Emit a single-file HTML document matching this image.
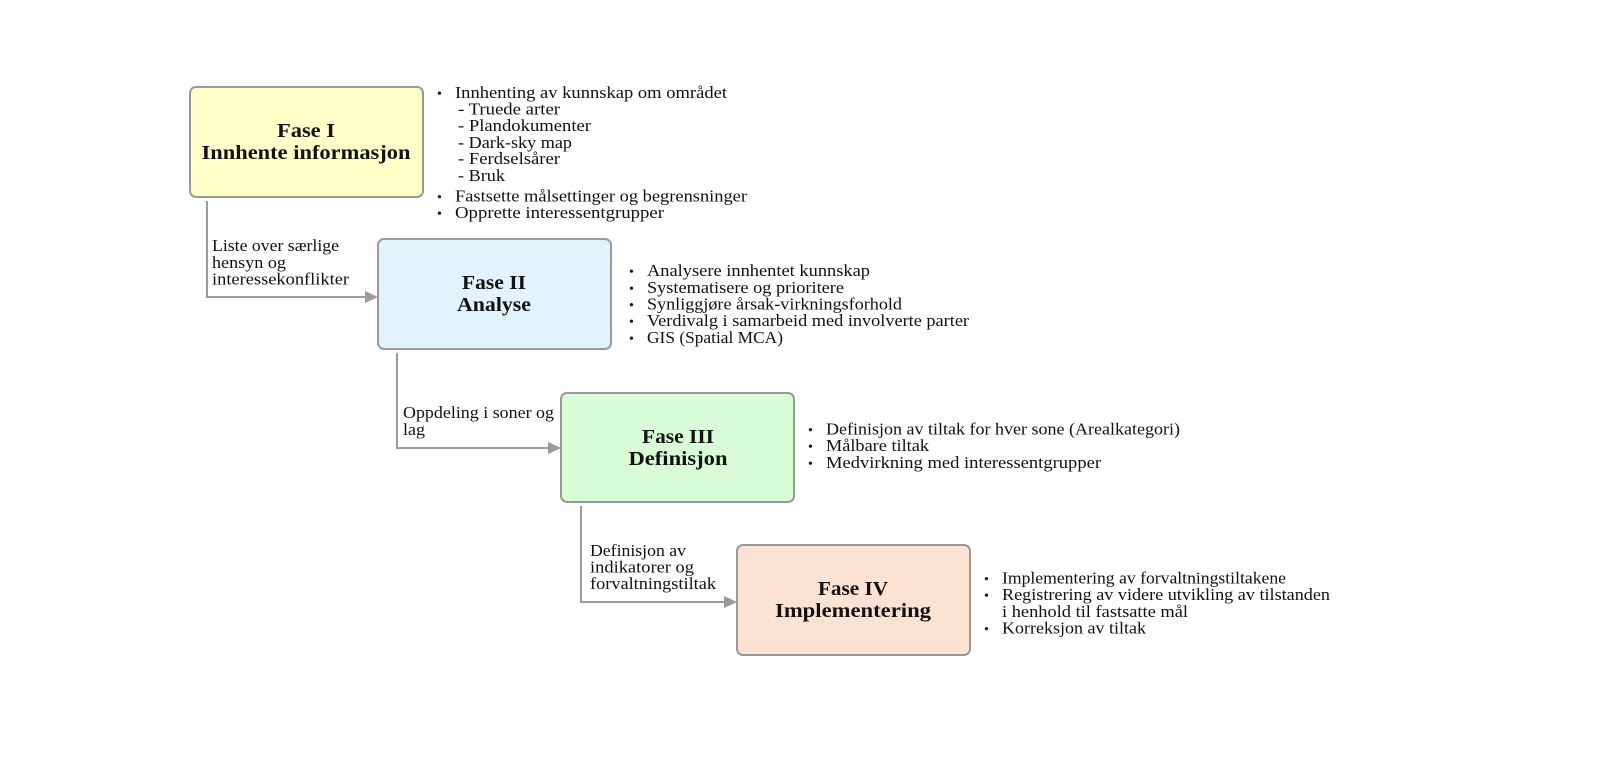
<!DOCTYPE html>
<html><head><meta charset="utf-8"><style>
html,body{margin:0;padding:0;background:#fff;overflow:hidden;width:1600px;height:777px;}
svg{display:block;}
text{font-family:"Liberation Serif",serif;font-size:17px;fill:#111;}
.t{font-weight:bold;font-size:20px;text-anchor:middle;}
.b{font-size:14px;}
</style></head><body>
<svg width="1600" height="777" viewBox="0 0 1600 777" xmlns="http://www.w3.org/2000/svg">
<g fill="none" stroke="#9a9a9a" stroke-width="2">
<path d="M207,201 V297 H367"/>
<path d="M397,353 V448 H550"/>
<path d="M581,506 V602 H726"/>
</g>
<g fill="#9a9a9a">
<path d="M365,291 L378,297 L365,303 z"/>
<path d="M548,442 L561,448 L548,454 z"/>
<path d="M724,596 L737,602 L724,608 z"/>
</g>
<g stroke="#9a9a9a" stroke-width="2">
<rect x="190" y="87" width="233" height="110" rx="6" fill="#ffffc8"/>
<rect x="378" y="239" width="233" height="110" rx="6" fill="#e2f3fd"/>
<rect x="561" y="393" width="233" height="109" rx="6" fill="#d8fdd6"/>
<rect x="737" y="545" width="233" height="110" rx="6" fill="#fce2d2"/>
</g>
<text class="t" x="306" y="137" textLength="58" lengthAdjust="spacingAndGlyphs">Fase I</text>
<text class="t" x="306" y="159" textLength="209" lengthAdjust="spacingAndGlyphs">Innhente informasjon</text>
<text class="t" x="494" y="289" textLength="64" lengthAdjust="spacingAndGlyphs">Fase II</text>
<text class="t" x="494" y="311" textLength="74" lengthAdjust="spacingAndGlyphs">Analyse</text>
<text class="t" x="678" y="443" textLength="72" lengthAdjust="spacingAndGlyphs">Fase III</text>
<text class="t" x="678" y="465" textLength="99" lengthAdjust="spacingAndGlyphs">Definisjon</text>
<text class="t" x="853" y="595" textLength="70" lengthAdjust="spacingAndGlyphs">Fase IV</text>
<text class="t" x="853" y="617" textLength="156" lengthAdjust="spacingAndGlyphs">Implementering</text>

<g>
<text class="b" x="437" y="98">•</text>
<text x="455" y="98" textLength="272" lengthAdjust="spacingAndGlyphs">Innhenting av kunnskap om området</text>
<text x="458" y="114.5" textLength="102" lengthAdjust="spacingAndGlyphs">- Truede arter</text>
<text x="458" y="131" textLength="133" lengthAdjust="spacingAndGlyphs">- Plandokumenter</text>
<text x="458" y="148" textLength="114" lengthAdjust="spacingAndGlyphs">- Dark-sky map</text>
<text x="458" y="164" textLength="102" lengthAdjust="spacingAndGlyphs">- Ferdselsårer</text>
<text x="458" y="181" textLength="47" lengthAdjust="spacingAndGlyphs">- Bruk</text>
<text class="b" x="437" y="201.5">•</text>
<text x="455" y="201.5" textLength="292" lengthAdjust="spacingAndGlyphs">Fastsette målsettinger og begrensninger</text>
<text class="b" x="437" y="218">•</text>
<text x="455" y="218" textLength="209" lengthAdjust="spacingAndGlyphs">Opprette interessentgrupper</text>
</g>
<g>
<text class="b" x="629" y="276">•</text><text x="647" y="276" textLength="223" lengthAdjust="spacingAndGlyphs">Analysere innhentet kunnskap</text>
<text class="b" x="629" y="293">•</text><text x="647" y="293" textLength="197" lengthAdjust="spacingAndGlyphs">Systematisere og prioritere</text>
<text class="b" x="629" y="309.5">•</text><text x="647" y="309.5" textLength="255" lengthAdjust="spacingAndGlyphs">Synliggjøre årsak-virkningsforhold</text>
<text class="b" x="629" y="326">•</text><text x="647" y="326" textLength="322" lengthAdjust="spacingAndGlyphs">Verdivalg i samarbeid med involverte parter</text>
<text class="b" x="629" y="343">•</text><text x="647" y="343" textLength="136" lengthAdjust="spacingAndGlyphs">GIS (Spatial MCA)</text>
</g>
<g>
<text class="b" x="808" y="434.5">•</text><text x="826" y="434.5" textLength="354" lengthAdjust="spacingAndGlyphs">Definisjon av tiltak for hver sone (Arealkategori)</text>
<text class="b" x="808" y="451">•</text><text x="826" y="451" textLength="103" lengthAdjust="spacingAndGlyphs">Målbare tiltak</text>
<text class="b" x="808" y="468">•</text><text x="826" y="468" textLength="275" lengthAdjust="spacingAndGlyphs">Medvirkning med interessentgrupper</text>
</g>
<g>
<text class="b" x="984" y="583.5">•</text><text x="1002" y="583.5" textLength="284" lengthAdjust="spacingAndGlyphs">Implementering av forvaltningstiltakene</text>
<text class="b" x="984" y="600">•</text><text x="1002" y="600" textLength="328" lengthAdjust="spacingAndGlyphs">Registrering av videre utvikling av tilstanden</text>
<text x="1002" y="617" textLength="186" lengthAdjust="spacingAndGlyphs">i henhold til fastsatte mål</text>
<text class="b" x="984" y="633.5">•</text><text x="1002" y="633.5" textLength="144" lengthAdjust="spacingAndGlyphs">Korreksjon av tiltak</text>
</g>
<text x="212" y="251" textLength="127" lengthAdjust="spacingAndGlyphs">Liste over særlige</text>
<text x="212" y="268" textLength="74" lengthAdjust="spacingAndGlyphs">hensyn og</text>
<text x="212" y="284.5" textLength="137" lengthAdjust="spacingAndGlyphs">interessekonflikter</text>
<text x="403" y="418" textLength="151" lengthAdjust="spacingAndGlyphs">Oppdeling i soner og</text>
<text x="403" y="435" textLength="22" lengthAdjust="spacingAndGlyphs">lag</text>
<text x="590" y="556" textLength="96" lengthAdjust="spacingAndGlyphs">Definisjon av</text>
<text x="590" y="572.5" textLength="104" lengthAdjust="spacingAndGlyphs">indikatorer og</text>
<text x="590" y="589" textLength="126" lengthAdjust="spacingAndGlyphs">forvaltningstiltak</text>
</svg>
</body></html>
